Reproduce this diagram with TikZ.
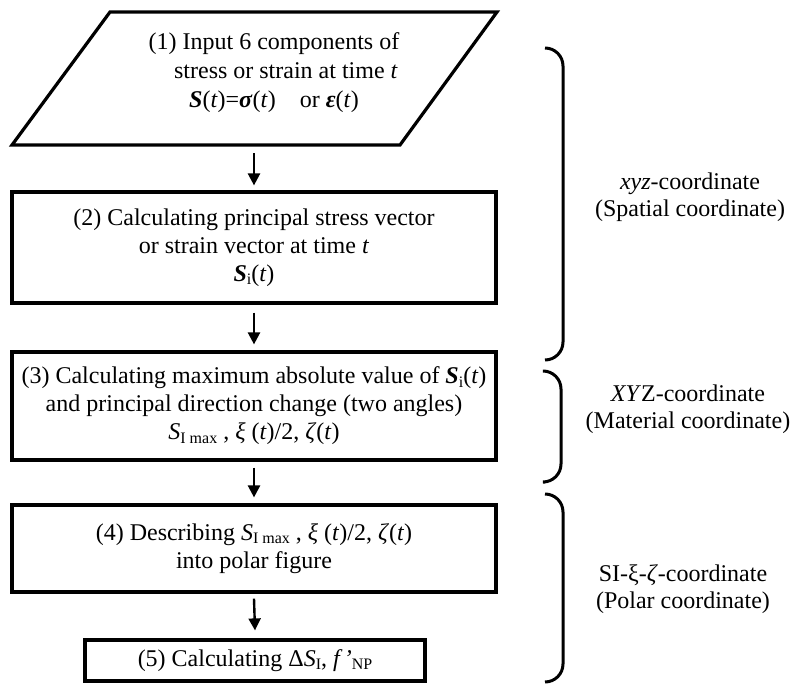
\documentclass[tikz,border=0pt]{standalone}
\usepackage{fontspec}
\setmainfont{Liberation Serif}
\usetikzlibrary{arrows.meta}
\newcommand\lowsub[1]{\raisebox{-0.3ex}{\fontsize{16}{16}\selectfont #1}}
\newcommand\bi[1]{\textbf{\textit{#1}}}
\begin{document}
\begin{tikzpicture}[x=1pt,y=-1pt,
  box/.style={draw,line width=3.2pt,rectangle,inner sep=0pt,align=center,font=\fontsize{24}{28}\selectfont},
  txt/.style={rectangle,inner sep=0pt,align=center,font=\fontsize{24}{29}\selectfont},
  flow/.style={line width=2.4pt,-{Triangle[width=12pt,length=12pt]}},
  brc/.style={line width=3pt,rounded corners=18pt},
  lbl/.style={align=center,font=\fontsize{24}{27}\selectfont}]
\useasboundingbox (0,0) rectangle (798,690);

% (1) parallelogram
\draw[line width=3.2pt,line join=miter] (110,12) -- (497,12) -- (400,145) -- (12,145) -- cycle;
\node[txt,minimum height=133pt] (p1) at (274,78.5) {};
\node[txt] (p1t) at (274,73)
  {(1) Input 6 components of\\
   \hspace*{1em}stress or strain at time \textit{t}\\
   \bi{S}(\textit{t})=\bi{σ}(\textit{t})\quad or \bi{ε}(\textit{t})};

\node[box,minimum width=484pt,minimum height=111pt] (b2) at (254,247.5)
  {(2) Calculating principal stress vector\\
   or strain vector at time \textit{t}\\
   \bi{S}\lowsub{i}(\textit{t})};

\node[box,minimum width=484pt,minimum height=108pt] (b3) at (254,406)
  {(3) Calculating maximum absolute value of \bi{S}\lowsub{i}(\textit{t})\\
   and principal direction change (two angles)\\
   \textit{S}\lowsub{I max} , \textit{ξ} (\textit{t})/2, \textit{ζ}(\textit{t})};

\node[box,minimum width=484pt,minimum height=87pt] (b4) at (254,548.5)
  {(4) Describing \textit{S}\lowsub{I max} , \textit{ξ} (\textit{t})/2, \textit{ζ}(\textit{t})\\
   into polar figure};

\node[box,minimum width=340pt,minimum height=41pt] (b5) at (255,660.5)
  {(5) Calculating Δ\textit{S}\lowsub{I}, \textit{f\,’}\lowsub{NP}};

% arrows
\draw[flow] ([yshift=-8pt]p1.south -| b2.north) -- ([yshift=5pt]b2.north);
\draw[flow] ([yshift=-8pt]b2.south) -- ([yshift=6pt]b3.north);
\draw[flow] ([yshift=-6pt]b3.south) -- ([yshift=6pt]b4.north);
\draw[flow] ([yshift=-5pt]b4.south) -- ([yshift=8pt]b5.north);

% braces
\draw[brc] (545,48) -- (563,48) -- (563,360) -- (545,360);
\draw[brc] (545,371) -- (561,371) -- (561,482) -- (545,482);
\draw[brc] (545,494) -- (563,494) -- (563,682) -- (545,682);

% labels
\node[lbl] (l1) at (690,197) {\textit{xyz}-coordinate\\(Spatial coordinate)};
\node[lbl] (l2) at (688,409) {\textit{XY}Z-coordinate\\(Material coordinate)};
\node[lbl] (l3) at (683,589) {SI-ξ-\textit{ζ}-coordinate\\(Polar coordinate)};
\end{tikzpicture}
\end{document}
